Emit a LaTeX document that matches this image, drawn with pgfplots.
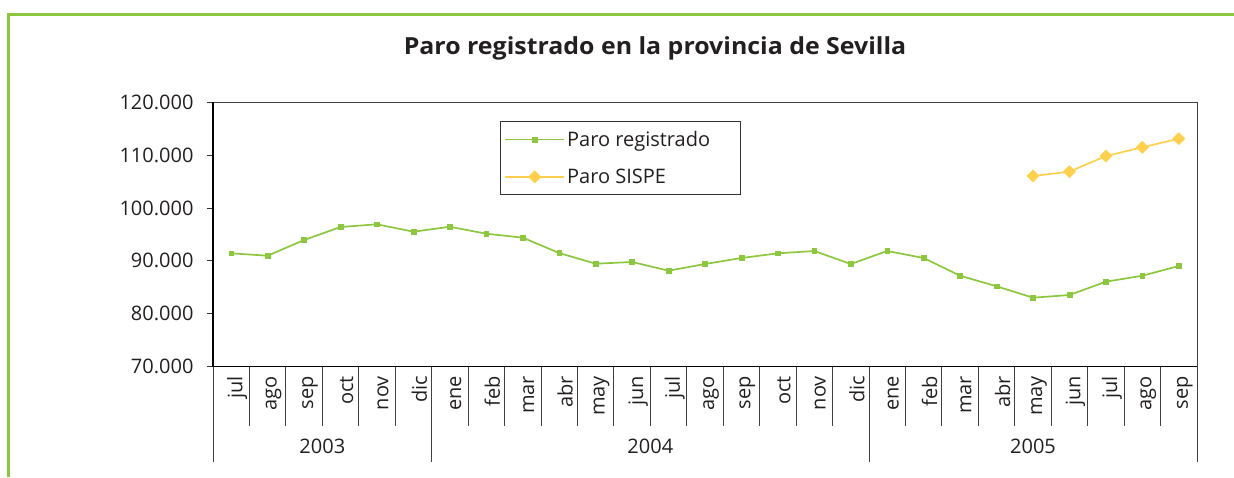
\documentclass[border=0pt]{standalone}
\usepackage{pgfplots}
\pgfplotsset{compat=1.18}
\usepackage{fontspec}
\setmainfont{Open Sans}
\definecolor{grn}{RGB}{141,198,63}
\definecolor{yel}{RGB}{255,208,77}
\definecolor{txt}{RGB}{35,31,32}
\begin{document}
\begin{tikzpicture}[x=1pt,y=1pt]
\useasboundingbox (0,0) rectangle (1234,-477);
\draw[grn,line width=3pt] (8,-477) -- (8,-14) -- (1235,-14);
\node[text=txt, font=\bfseries\fontsize{23.5}{27}\selectfont] at (655,-48) {\scalebox{1.06}[1]{Paro registrado en la provincia de Sevilla}};
\begin{axis}[
  at={(213pt,-366.5pt)}, anchor=south west,
  scale only axis, width=984pt, height=264.2pt,
  xmin=-0.5, xmax=26.5, ymin=70000, ymax=120000,
  clip=false,
  scaled y ticks=false,
  axis line style={draw=black!75, line width=1pt},
  ytick={70000,80000,...,120000},
  yticklabels={70.000,80.000,90.000,100.000,110.000,120.000},
  tick align=outside, ytick pos=left, xtick pos=bottom,
  major tick length=6pt,
  tick style={draw=black!80, line width=0.8pt},
  yticklabel style={text=txt, font=\fontsize{20}{24}\selectfont, xshift=-10pt},
  xtick={0,...,26},
  xticklabels={jul,ago,sep,oct,nov,dic,ene,feb,mar,abr,may,jun,jul,ago,sep,oct,nov,dic,ene,feb,mar,abr,may,jun,jul,ago,sep},
  x tick style={draw=none},
  xticklabel style={text=txt, font=\fontsize{20}{24}\selectfont, rotate=90, anchor=east, yshift=-6pt},
  minor xtick={-0.5,0.5,...,26.5},
  minor tick length=59pt,
  minor x tick style={draw=black!75, line width=0.8pt},
  legend style={at={(0.2917,0.930)}, anchor=north west, draw=black!80, line width=0.8pt,
    text=txt, font=\fontsize{20}{24}\selectfont, row sep=17pt, inner xsep=4pt, inner ysep=8pt,
    cells={anchor=west}},
  legend image code/.code={\draw[mark repeat=2,mark phase=2,#1] plot coordinates {(0pt,0pt)(29.5pt,0pt)(59pt,0pt)};},
]
\addplot[grn, line width=1.7pt, mark=square*, mark size=2.4pt, mark options={fill=grn, line width=0.5pt}] coordinates {
(0,91420)(1,90970)(2,93940)(3,96400)(4,96910)(5,95510)
(6,96440)(7,95130)(8,94380)(9,91480)(10,89450)(11,89780)
(12,88130)(13,89400)(14,90530)(15,91420)(16,91860)(17,89400)
(18,91860)(19,90530)(20,87180)(21,85180)(22,83020)(23,83530)
(24,86050)(25,87180)(26,89020)};
\addlegendentry{\makebox[167pt][l]{Paro registrado}}
\addplot[yel, line width=1.7pt, mark=square*, mark size=4.3pt, mark options={fill=yel, rotate=45, line width=0.5pt}] coordinates {
(22,106050)(23,106870)(24,109840)(25,111480)(26,113110)};
\addlegendentry{Paro SISPE}
\draw[black, line width=1.6pt] (axis cs:-0.5,120000) -- (axis cs:-0.5,70000) -- (axis cs:26.5,70000);
\draw[black!75, line width=0.8pt] (axis cs:-0.5,70000) -- ([yshift=-95pt]axis cs:-0.5,70000);
\draw[black!75, line width=0.8pt] (axis cs:5.5,70000) -- ([yshift=-95pt]axis cs:5.5,70000);
\draw[black!75, line width=0.8pt] (axis cs:17.5,70000) -- ([yshift=-95pt]axis cs:17.5,70000);
\draw[black!75, line width=0.8pt] (axis cs:26.5,70000) -- ([yshift=-95pt]axis cs:26.5,70000);
\node[text=txt, font=\fontsize{20}{24}\selectfont] at ([yshift=-80pt]axis cs:2.5,70000) {2003};
\node[text=txt, font=\fontsize{20}{24}\selectfont] at ([yshift=-80pt]axis cs:11.5,70000) {2004};
\node[text=txt, font=\fontsize{20}{24}\selectfont] at ([yshift=-80pt]axis cs:22,70000) {2005};
\end{axis}
\end{tikzpicture}
\end{document}
